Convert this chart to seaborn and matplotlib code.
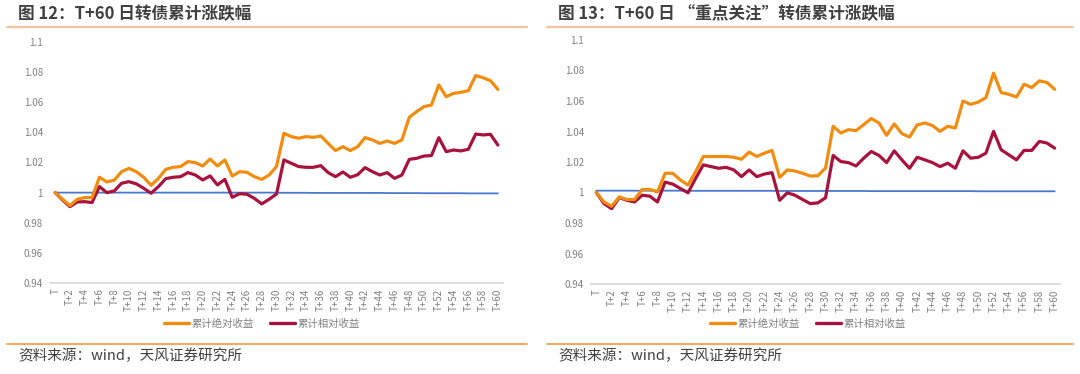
import numpy as np
import matplotlib
matplotlib.use("Agg")
import matplotlib.pyplot as plt
from matplotlib.lines import Line2D
import seaborn as sns

# day index T .. T+60
days = list(range(61))
xtick_pos = list(range(0, 61, 2))
xtick_labels = ["T", "T+2", "T+4", "T+6", "T+8", "T+10", "T+12", "T+14", "T+16", "T+18",
                "T+20", "T+22", "T+24", "T+26", "T+28", "T+30", "T+32", "T+34", "T+36",
                "T+38", "T+40", "T+42", "T+44", "T+46", "T+48", "T+50", "T+52", "T+54",
                "T+56", "T+58", "T+60"]
ytick_vals = [0.94, 0.96, 0.98, 1.0, 1.02, 1.04, 1.06, 1.08, 1.1]
ytick_labels = ["0.94", "0.96", "0.98", "1", "1.02", "1.04", "1.06", "1.08", "1.1"]

# 图12: all convertible bonds
abs_12 = [1.0000, 0.9956, 0.9914, 0.9956, 0.9967, 0.9967, 1.0102, 1.0071, 1.0082, 1.0139,
          1.0161, 1.0139, 1.0102, 1.0049, 1.0095, 1.0155, 1.0168, 1.0173, 1.0206, 1.0199,
          1.0177, 1.0223, 1.0177, 1.0217, 1.0110, 1.0139, 1.0135, 1.0106, 1.0088, 1.0117,
          1.0173, 1.0394, 1.0372, 1.0361, 1.0372, 1.0367, 1.0376, 1.0327, 1.0279, 1.0305,
          1.0279, 1.0305, 1.0365, 1.0350, 1.0327, 1.0343, 1.0327, 1.0350, 1.0500, 1.0538,
          1.0571, 1.0582, 1.0715, 1.0637, 1.0659, 1.0666, 1.0677, 1.0777, 1.0763, 1.0743,
          1.0686]
rel_12 = [1.0000, 0.9951, 0.9907, 0.9938, 0.9940, 0.9934, 1.0040, 1.0000, 1.0011, 1.0062,
          1.0073, 1.0058, 1.0029, 0.9996, 1.0040, 1.0093, 1.0102, 1.0106, 1.0133, 1.0117,
          1.0084, 1.0111, 1.0051, 1.0088, 0.9969, 0.9993, 0.9989, 0.9962, 0.9925, 0.9956,
          0.9991, 1.0217, 1.0195, 1.0173, 1.0168, 1.0168, 1.0179, 1.0133, 1.0106, 1.0137,
          1.0102, 1.0119, 1.0166, 1.0139, 1.0117, 1.0133, 1.0095, 1.0117, 1.0221, 1.0228,
          1.0243, 1.0246, 1.0365, 1.0272, 1.0283, 1.0277, 1.0288, 1.0389, 1.0383, 1.0387,
          1.0316]
base_12 = [1.0000, 1.0000, 1.0000, 1.0000, 1.0000, 1.0000, 1.0000, 1.0000, 1.0000, 1.0000,
           1.0000, 1.0000, 1.0000, 1.0000, 1.0000, 1.0000, 1.0000, 1.0000, 1.0000, 1.0000,
           1.0000, 1.0000, 1.0000, 1.0000, 1.0000, 1.0000, 1.0000, 1.0000, 1.0000, 1.0000,
           0.9999, 0.9999, 0.9999, 0.9999, 0.9999, 0.9998, 0.9998, 0.9998, 0.9998, 0.9998,
           0.9998, 0.9998, 0.9998, 0.9998, 0.9998, 0.9997, 0.9997, 0.9997, 0.9997, 0.9997,
           0.9996, 0.9996, 0.9996, 0.9996, 0.9996, 0.9996, 0.9995, 0.9995, 0.9995, 0.9995,
           0.9995]

# 图13: "重点关注" convertible bonds
abs_13 = [1.0000, 0.9938, 0.9910, 0.9971, 0.9954, 0.9954, 1.0020, 1.0020, 1.0004, 1.0126,
          1.0126, 1.0082, 1.0049, 1.0137, 1.0236, 1.0236, 1.0236, 1.0236, 1.0231, 1.0218,
          1.0265, 1.0236, 1.0258, 1.0276, 1.0099, 1.0148, 1.0141, 1.0126, 1.0108, 1.0110,
          1.0160, 1.0434, 1.0390, 1.0412, 1.0406, 1.0445, 1.0485, 1.0456, 1.0375, 1.0450,
          1.0386, 1.0364, 1.0443, 1.0456, 1.0439, 1.0401, 1.0434, 1.0423, 1.0600, 1.0578,
          1.0593, 1.0622, 1.0783, 1.0655, 1.0644, 1.0626, 1.0710, 1.0688, 1.0732, 1.0721,
          1.0677]
rel_13 = [1.0000, 0.9927, 0.9894, 0.9967, 0.9949, 0.9938, 0.9982, 0.9976, 0.9938, 1.0068,
          1.0055, 1.0026, 0.9998, 1.0093, 1.0181, 1.0170, 1.0159, 1.0165, 1.0148, 1.0104,
          1.0148, 1.0104, 1.0121, 1.0130, 0.9949, 0.9998, 0.9982, 0.9954, 0.9927, 0.9932,
          0.9965, 1.0243, 1.0203, 1.0196, 1.0174, 1.0225, 1.0269, 1.0243, 1.0196, 1.0273,
          1.0214, 1.0159, 1.0231, 1.0214, 1.0196, 1.0170, 1.0192, 1.0159, 1.0273, 1.0225,
          1.0231, 1.0258, 1.0401, 1.0280, 1.0247, 1.0214, 1.0276, 1.0276, 1.0335, 1.0324,
          1.0291]
base_13 = [1.0012, 1.0012, 1.0012, 1.0012, 1.0012, 1.0012, 1.0012, 1.0012, 1.0012, 1.0012,
           1.0012, 1.0012, 1.0011, 1.0011, 1.0011, 1.0011, 1.0011, 1.0011, 1.0011, 1.0011,
           1.0011, 1.0011, 1.0011, 1.0011, 1.0010, 1.0010, 1.0010, 1.0010, 1.0010, 1.0010,
           1.0010, 1.0010, 1.0010, 1.0010, 1.0010, 1.0010, 1.0009, 1.0009, 1.0009, 1.0009,
           1.0009, 1.0009, 1.0009, 1.0009, 1.0009, 1.0009, 1.0009, 1.0009, 1.0009, 1.0009,
           1.0008, 1.0008, 1.0008, 1.0008, 1.0008, 1.0008, 1.0008, 1.0008, 1.0008, 1.0008,
           1.0008]

titles = ["图 12：T+60 日转债累计涨跌幅", "图 13：T+60 日 “重点关注”转债累计涨跌幅"]
legend_names = ["累计绝对收益", "累计相对收益"]
source_text = "资料来源：wind，天风证券研究所"

ORANGE = "#F28C0F"
RED = "#A8133E"
BLUE = "#4A78CF"
GRAY = "#808080"
DARK = "#404040"

sns.set_style("white")
plt.rcParams["font.family"] = ["Noto Sans CJK SC", "DejaVu Sans"]

W, H = 1080, 374
fig = plt.figure(figsize=(W / 100, H / 100), dpi=100)

# axes boxes in pixels: left, top, right, bottom
boxes = [(50, 42, 503, 283), (591, 40, 1060, 284)]
panels = [(abs_12, rel_12, base_12), (abs_13, rel_13, base_13)]
legend_cx = [262, 808]
title_x = [18, 558]
rule_x = [(7, 527), (547, 1073)]

for k in range(2):
    l, t, r, b = boxes[k]
    ax = fig.add_axes([l / W, 1 - b / H, (r - l) / W, (b - t) / H])
    a, rl, bs = panels[k]
    sns.lineplot(x=days, y=bs, ax=ax, color=BLUE, linewidth=1.3)
    sns.lineplot(x=days, y=rl, ax=ax, color=RED, linewidth=2.3, label=legend_names[1])
    sns.lineplot(x=days, y=a, ax=ax, color=ORANGE, linewidth=2.3, label=legend_names[0])
    for ln in ax.get_lines():
        ln.set_solid_joinstyle("round")
        ln.set_solid_capstyle("round")

    ax.set_xlim(-0.7, 60.7)
    ax.set_ylim(0.94, 1.1)
    ax.set_yticks(ytick_vals, ytick_labels)
    ax.set_xticks(xtick_pos, xtick_labels, rotation=90)
    ax.set_xlabel("")
    ax.set_ylabel("")
    ax.tick_params(axis="both", length=0, labelsize=7, colors=GRAY)
    ax.tick_params(axis="y", pad=5)
    ax.tick_params(axis="x", pad=4)
    for s in ["top", "right", "left"]:
        ax.spines[s].set_visible(False)
    ax.spines["bottom"].set_color("#D9D9D9")
    ax.spines["bottom"].set_linewidth(1.2)
    ax.grid(False)

    h_or = Line2D([], [], color=ORANGE, linewidth=2.4)
    h_rd = Line2D([], [], color=RED, linewidth=2.4)
    leg = ax.legend([h_or, h_rd], legend_names, loc="center",
                    bbox_to_anchor=(legend_cx[k] / W, 1 - 324 / H),
                    bbox_transform=fig.transFigure, ncol=2, frameon=False,
                    fontsize=7.5, handlelength=2.4, handletextpad=0.2,
                    columnspacing=1.6, labelcolor=GRAY)

    fig.text(title_x[k] / W, 1 - 14 / H, titles[k], fontsize=12, fontweight="bold",
             color=DARK, ha="left", va="center")
    x0, x1 = rule_x[k]
    fig.add_artist(Line2D([x0 / W, x1 / W], [1 - 27 / H, 1 - 27 / H],
                          color="#F6C39E", linewidth=1.6))
    fig.add_artist(Line2D([x0 / W, x1 / W], [1 - 344 / H, 1 - 344 / H],
                          color="#F7963E", linewidth=1.2))
    fig.text(title_x[k] / W, 1 - 356 / H, source_text, fontsize=10.5,
             color=DARK, ha="left", va="center")

fig.savefig("out.png", dpi=100)
